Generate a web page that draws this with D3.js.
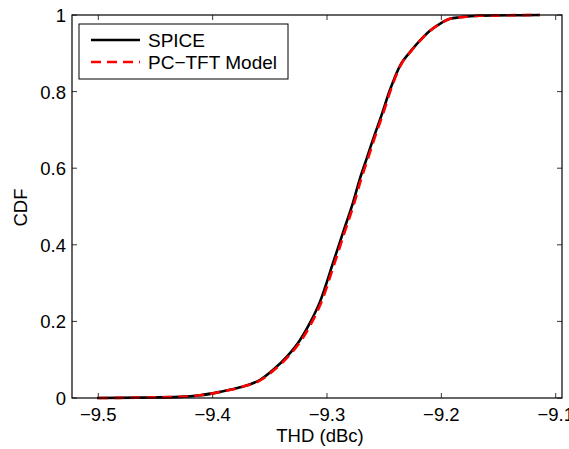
<!DOCTYPE html>
<html>
<head>
<meta charset="utf-8">
<script src="https://cdn.jsdelivr.net/npm/d3@7"></script>
<style>
  body { margin: 0; background: #fff; }
  svg { display: block; font-family: "Liberation Sans", Arial, Helvetica, sans-serif; }
</style>
</head>
<body>
<div id="chart"></div>
<script>
// values
var thdSpice = [-9.5011, -9.4635, -9.4286, -9.4111, -9.3936, -9.3761, -9.3587, -9.3473, -9.3351, -9.3237,
  -9.3149, -9.3062, -9.2948, -9.2861, -9.2774, -9.2712, -9.2651, -9.2599, -9.2520, -9.2450,
  -9.2354, -9.2275, -9.2188, -9.2100, -9.2013, -9.1925, -9.1838, -9.1663, -9.1138];
var cdfSpice = [0, 0.001, 0.003, 0.007, 0.016, 0.028, 0.047, 0.073, 0.108, 0.151,
  0.196, 0.251, 0.352, 0.431, 0.509, 0.573, 0.627, 0.674, 0.741, 0.804,
  0.872, 0.903, 0.933, 0.959, 0.977, 0.990, 0.994, 0.998, 1.0];
var thdModel = [-9.5000, -9.4630, -9.4282, -9.4106, -9.3930, -9.3754, -9.3578, -9.3463, -9.3340, -9.3224,
  -9.3135, -9.3048, -9.2934, -9.2848, -9.2762, -9.2700, -9.2640, -9.2589, -9.2511, -9.2443,
  -9.2350, -9.2272, -9.2186, -9.2099, -9.2012, -9.1925, -9.1838, -9.1663, -9.1140];
var cdfModel = [0, 0.001, 0.003, 0.007, 0.016, 0.028, 0.047, 0.073, 0.108, 0.151,
  0.196, 0.251, 0.352, 0.431, 0.509, 0.573, 0.627, 0.674, 0.741, 0.804,
  0.872, 0.903, 0.933, 0.959, 0.977, 0.990, 0.994, 0.998, 1.0];
var xTicks = [-9.5, -9.4, -9.3, -9.2, -9.1];
var yTicks = [0, 0.2, 0.4, 0.6, 0.8, 1];
var seriesNames = ["SPICE", "PC\u2212TFT Model"];

var W = 569, H = 449;
var margin = { top: 15, right: 7, bottom: 51, left: 72 };
var width = W - margin.left - margin.right;
var height = H - margin.top - margin.bottom;
var fs = 18.5;

var svg = d3.select("#chart").append("svg")
  .attr("width", W)
  .attr("height", H);

var g = svg.append("g")
  .attr("transform", "translate(" + margin.left + "," + margin.top + ")");

var x = d3.scaleLinear().domain([-9.523, -9.0945]).range([0, width]);
var y = d3.scaleLinear().domain([0, 1]).range([height, 0]);

var fmtTick = function (d) { return d === 0 ? "0" : d3.format("")(d).replace("-", "\u2212"); };

// ticks pointing inward, on all four sides (matlab box)
var tickLen = 5;
g.selectAll("line.xtb").data(xTicks).enter().append("line")
  .attr("x1", function (d) { return x(d); }).attr("x2", function (d) { return x(d); })
  .attr("y1", height).attr("y2", height - tickLen)
  .attr("stroke", "#000").attr("stroke-width", 0.8);
g.selectAll("line.xtt").data(xTicks).enter().append("line")
  .attr("x1", function (d) { return x(d); }).attr("x2", function (d) { return x(d); })
  .attr("y1", 0).attr("y2", tickLen)
  .attr("stroke", "#000").attr("stroke-width", 0.8);
g.selectAll("line.ytl").data(yTicks).enter().append("line")
  .attr("x1", 0).attr("x2", tickLen)
  .attr("y1", function (d) { return y(d); }).attr("y2", function (d) { return y(d); })
  .attr("stroke", "#000").attr("stroke-width", 0.8);
g.selectAll("line.ytr").data(yTicks).enter().append("line")
  .attr("x1", width).attr("x2", width - tickLen)
  .attr("y1", function (d) { return y(d); }).attr("y2", function (d) { return y(d); })
  .attr("stroke", "#000").attr("stroke-width", 0.8);

g.selectAll("text.xl").data(xTicks).enter().append("text")
  .attr("x", function (d) { return x(d); })
  .attr("y", height + 23)
  .attr("text-anchor", "middle")
  .attr("font-size", fs)
  .text(fmtTick);
g.selectAll("text.yl").data(yTicks).enter().append("text")
  .attr("x", -6)
  .attr("y", function (d) { return y(d) + 7; })
  .attr("text-anchor", "end")
  .attr("font-size", fs)
  .text(fmtTick);

// curves
var line = function (xs, ys) {
  return d3.line()
    .curve(d3.curveMonotoneX)
    .x(function (d, i) { return x(xs[i]); })
    .y(function (d, i) { return y(ys[i]); })(xs);
};
g.append("path")
  .attr("d", line(thdSpice, cdfSpice))
  .attr("fill", "none").attr("stroke", "#000").attr("stroke-width", 2.6)
  .attr("stroke-linejoin", "round");
g.append("path")
  .attr("d", line(thdModel, cdfModel))
  .attr("fill", "none").attr("stroke", "#ff0000").attr("stroke-width", 2.6)
  .attr("stroke-dasharray", "10,6");

// axes box
g.append("rect")
  .attr("x", 0).attr("y", 0).attr("width", width).attr("height", height)
  .attr("fill", "none").attr("stroke", "#000").attr("stroke-width", 1.2);

// axis labels
g.append("text")
  .attr("x", width / 2 + 3)
  .attr("y", height + 44)
  .attr("text-anchor", "middle")
  .attr("font-size", fs)
  .text("THD (dBc)");
g.append("text")
  .attr("transform", "translate(" + (-45) + "," + (height / 2 + 1) + ") rotate(-90)")
  .attr("text-anchor", "middle")
  .attr("font-size", fs)
  .text("CDF");

// legend
var leg = g.append("g").attr("transform", "translate(7,9)");
leg.append("rect")
  .attr("width", 209).attr("height", 55)
  .attr("fill", "#fff").attr("stroke", "#000").attr("stroke-width", 1);
var styles = [{ c: "#000", dash: null }, { c: "#ff0000", dash: "10,6" }];
seriesNames.forEach(function (name, i) {
  var yy = 16 + i * 22;
  leg.append("line")
    .attr("x1", 12).attr("x2", 61).attr("y1", yy).attr("y2", yy)
    .attr("stroke", styles[i].c).attr("stroke-width", 2.6)
    .attr("stroke-dasharray", styles[i].dash);
  leg.append("text")
    .attr("x", 69).attr("y", yy + 7)
    .attr("font-size", 19)
    .text(name);
});
</script>
</body>
</html>
